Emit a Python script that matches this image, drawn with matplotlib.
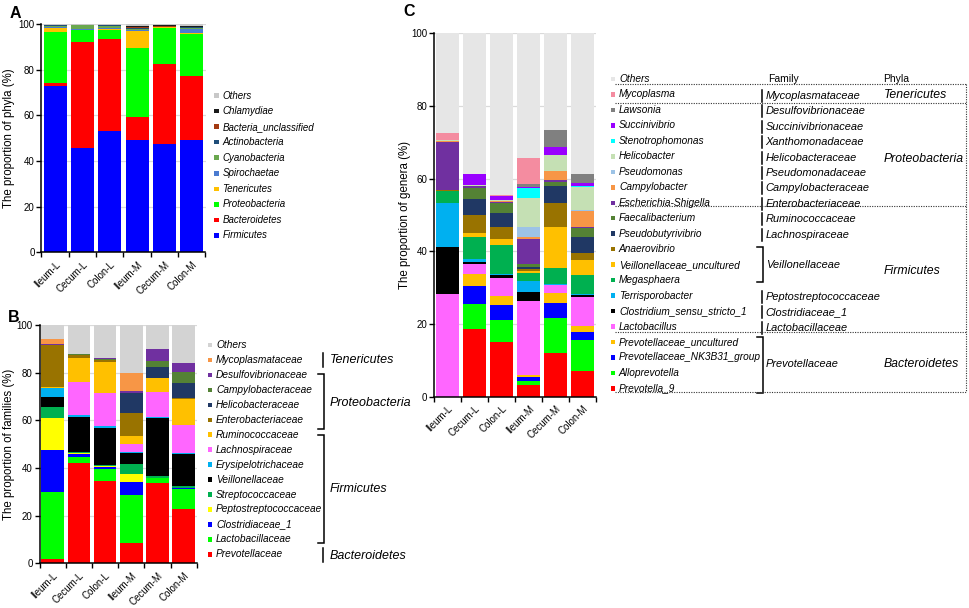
import numpy as np
import matplotlib
matplotlib.use('Agg')
import matplotlib.pyplot as plt
from matplotlib.patches import Rectangle

plt.rcParams['font.family'] = ['Liberation Sans', 'DejaVu Sans']

W, H = 970, 608

groups = ['Ileum-L', 'Cecum-L', 'Colon-L', 'Ileum-M', 'Cecum-M', 'Colon-M']

# ---- panel A: phyla (bottom -> top) ----
firmicutes = [72.8, 45.5, 53.3, 49.2, 47.3, 49.2]
bacteroidetes = [1.5, 46.5, 40.1, 10.1, 35.3, 28.0]
proteobacteria = [22.1, 5.2, 4.1, 30.2, 15.8, 18.3]
tenericutes = [2.0, 0.3, 0.5, 7.4, 0.1, 0.6]
spirochaetae = [0.3, 0.3, 0.4, 0.5, 0.1, 1.8]
cyanobacteria = [0.3, 1.7, 0.8, 0.3, 0.2, 0.2]
actinobacteria = [0.4, 0.1, 0.2, 0.5, 0.1, 0.6]
bacteria_unclassified = [0.1, 0.05, 0.05, 0.7, 0.1, 0.1]
chlamydiae = [0.1, 0.05, 0.05, 0.2, 0.5, 0.4]
others_phyla = [0.4, 0.3, 0.5, 0.9, 0.5, 0.8]

# ---- panel B: families ----
prevotellaceae = [1.8, 42.2, 34.5, 8.4, 33.6, 22.9]
lactobacillaceae = [28.0, 2.6, 5.1, 20.3, 2.1, 8.3]
clostridiaceae_1 = [17.8, 1.1, 0.8, 5.6, 0.2, 0.2]
peptostreptococcaceae = [13.2, 0.5, 0.6, 3.2, 0.1, 0.4]
streptococcaceae = [4.7, 0.3, 0.2, 4.2, 0.6, 0.8]
veillonellaceae = [4.4, 14.8, 15.7, 4.5, 24.2, 13.1]
erysipelotrichaceae = [3.5, 0.6, 0.7, 0.7, 0.7, 0.7]
lachnospiraceae = [0.3, 14.0, 13.7, 3.2, 10.5, 11.6]
ruminococcaceae = [0.2, 10.2, 13.0, 3.5, 5.6, 11.0]
enterobacteriaceae = [17.7, 1.0, 0.9, 9.3, 0.3, 0.3]
helicobacteraceae = [0.1, 0.1, 0.1, 8.4, 4.3, 6.5]
campylobacteraceae = [0.1, 0.4, 0.4, 0.3, 2.8, 4.6]
desulfovibrionaceae = [0.1, 0.1, 0.3, 0.7, 4.8, 3.5]
mycoplasmataceae = [2.1, 0.1, 0.0, 7.4, 0.1, 0.1]
others_families = [6.0, 12.0, 14.0, 20.3, 10.1, 16.0]

# ---- panel C: genera ----
prevotella_9 = [0.0, 18.5, 15.1, 3.2, 11.9, 7.2]
alloprevotella = [0.0, 7.0, 6.0, 1.1, 9.8, 8.4]
nk3b31_group = [0.0, 5.0, 4.1, 1.0, 4.2, 2.3]
prevotellaceae_unc = [0.0, 3.3, 2.5, 0.7, 2.5, 1.6]
lactobacillus = [28.2, 2.7, 5.1, 20.3, 2.3, 8.0]
clostridium_ss1 = [13.0, 0.7, 0.6, 2.5, 0.1, 0.6]
terrisporobacter = [12.0, 0.6, 0.5, 3.0, 0.2, 0.2]
megasphaera = [3.4, 6.1, 7.8, 2.2, 4.5, 5.1]
veillonellaceae_unc = [0.1, 1.2, 1.7, 0.6, 11.3, 4.2]
anaerovibrio = [0.1, 4.9, 3.2, 0.6, 6.6, 2.0]
pseudobutyrivibrio = [0.0, 4.3, 4.0, 0.6, 4.7, 4.4]
faecalibacterium = [0.0, 3.0, 2.6, 0.6, 1.1, 2.3]
escherichia_shigella = [13.4, 0.6, 0.4, 7.0, 0.4, 0.4]
campylobacter = [0.2, 0.1, 0.2, 0.5, 2.6, 4.5]
pseudomonas = [0.0, 0.1, 0.1, 2.9, 0.0, 0.1]
helicobacter = [0.2, 0.1, 0.2, 8.0, 4.2, 6.5]
stenotrophomonas = [0.0, 0.0, 0.0, 2.5, 0.0, 0.2]
succinivibrio = [0.0, 3.1, 1.1, 0.3, 2.4, 0.7]
lawsonia = [0.0, 0.1, 0.1, 0.8, 4.6, 2.5]
mycoplasma = [2.1, 0.0, 0.1, 7.2, 0.0, 0.0]
others_genera = [27.3, 38.6, 44.6, 34.4, 26.6, 38.8]

phyla = [
    ('Firmicutes', firmicutes, '#0000FF'),
    ('Bacteroidetes', bacteroidetes, '#FF0000'),
    ('Proteobacteria', proteobacteria, '#00FF00'),
    ('Tenericutes', tenericutes, '#FFC000'),
    ('Spirochaetae', spirochaetae, '#4A7BD0'),
    ('Cyanobacteria', cyanobacteria, '#6AA84F'),
    ('Actinobacteria', actinobacteria, '#1F4E79'),
    ('Bacteria_unclassified', bacteria_unclassified, '#A33A12'),
    ('Chlamydiae', chlamydiae, '#1A1A1A'),
    ('Others', others_phyla, '#C8C8C8'),
]

families = [
    ('Prevotellaceae', prevotellaceae, '#FF0000'),
    ('Lactobacillaceae', lactobacillaceae, '#00FF00'),
    ('Clostridiaceae_1', clostridiaceae_1, '#0000FF'),
    ('Peptostreptococcaceae', peptostreptococcaceae, '#FFFF00'),
    ('Streptococcaceae', streptococcaceae, '#00B050'),
    ('Veillonellaceae', veillonellaceae, '#000000'),
    ('Erysipelotrichaceae', erysipelotrichaceae, '#00B0F0'),
    ('Lachnospiraceae', lachnospiraceae, '#FF66FF'),
    ('Ruminococcaceae', ruminococcaceae, '#FFC000'),
    ('Enterobacteriaceae', enterobacteriaceae, '#997300'),
    ('Helicobacteraceae', helicobacteraceae, '#203864'),
    ('Campylobacteraceae', campylobacteraceae, '#548235'),
    ('Desulfovibrionaceae', desulfovibrionaceae, '#7030A0'),
    ('Mycoplasmataceae', mycoplasmataceae, '#F79646'),
    ('Others', others_families, '#D3D3D3'),
]

genera = [
    ('Prevotella_9', prevotella_9, '#FF0000'),
    ('Alloprevotella', alloprevotella, '#00FF00'),
    ('Prevotellaceae_NK3B31_group', nk3b31_group, '#0000FF'),
    ('Prevotellaceae_uncultured', prevotellaceae_unc, '#FFC000'),
    ('Lactobacillus', lactobacillus, '#FF66FF'),
    ('Clostridium_sensu_stricto_1', clostridium_ss1, '#000000'),
    ('Terrisporobacter', terrisporobacter, '#00B0F0'),
    ('Megasphaera', megasphaera, '#00B050'),
    ('Veillonellaceae_uncultured', veillonellaceae_unc, '#FFC000'),
    ('Anaerovibrio', anaerovibrio, '#997300'),
    ('Pseudobutyrivibrio', pseudobutyrivibrio, '#203864'),
    ('Faecalibacterium', faecalibacterium, '#548235'),
    ('Escherichia-Shigella', escherichia_shigella, '#7030A0'),
    ('Campylobacter', campylobacter, '#F79646'),
    ('Pseudomonas', pseudomonas, '#9DC3E6'),
    ('Helicobacter', helicobacter, '#C5E0B4'),
    ('Stenotrophomonas', stenotrophomonas, '#00FFFF'),
    ('Succinivibrio', succinivibrio, '#9900FF'),
    ('Lawsonia', lawsonia, '#808080'),
    ('Mycoplasma', mycoplasma, '#F48CA0'),
    ('Others', others_genera, '#E6E6E6'),
]

fig = plt.figure(figsize=(W / 100, H / 100), dpi=100)


def px_axes(l, t, r, b):
    return fig.add_axes([l / W, 1 - b / H, (r - l) / W, (b - t) / H])


def stacked(ax, layers, width, ylabel, label_x):
    x = np.arange(len(groups))
    bottom = np.zeros(len(groups))
    for name, vals, col in layers:
        vals = np.array(vals, dtype=float)
        ax.bar(x, vals, width, bottom=bottom, color=col, linewidth=0, zorder=2)
        bottom += vals
    ax.set_xlim(-0.5, len(groups) - 0.5)
    ax.set_ylim(0, 100)
    ax.set_yticks(np.arange(0, 101, 20))
    ax.yaxis.grid(True, color='#DADADA', linewidth=0.9, zorder=0)
    ax.set_axisbelow(True)
    ax.set_xticks(x)
    ax.set_xticklabels(groups, rotation=45, ha='right', va='top',
                       rotation_mode='anchor', fontsize=7)
    ax.set_xticks(np.arange(-0.5, len(groups), 1), minor=True)
    ax.tick_params(axis='x', which='major', length=0, pad=5)
    ax.tick_params(axis='x', which='minor', length=3.5, width=1)
    ax.tick_params(axis='y', length=3.5, width=1, labelsize=7, pad=1.5)
    for s in ['top', 'right']:
        ax.spines[s].set_visible(False)
    for s in ['left', 'bottom']:
        ax.spines[s].set_linewidth(1.1)
    ax.set_ylabel(ylabel, fontsize=8.3)
    ax.yaxis.set_label_coords(label_x, 0.5)


axA = px_axes(41.5, 24, 205.5, 252.3)
stacked(axA, phyla, 0.85, 'The proportion of phyla (%)', (15 - 41.5) / 164)
axB = px_axes(39.6, 325, 196.8, 563.3)
stacked(axB, families, 0.86, 'The proportion of families (%)', (15 - 39.6) / 157.2)
axC = px_axes(434.2, 33.3, 596.2, 396.7)
stacked(axC, genera, 0.83, 'The proportion of genera (%)', (411 - 434.2) / 162)

# overlay in pixel coordinates for legends and annotations
ov = fig.add_axes([0, 0, 1, 1], zorder=10)
ov.set_xlim(0, W)
ov.set_ylim(H, 0)
ov.axis('off')
ov.patch.set_alpha(0)

for lab, x, y in [('A', 10, 13), ('B', 8, 317), ('C', 403, 12)]:
    ov.text(x, y, lab, fontsize=11.5, fontweight='bold', va='center', ha='left')


def legend(layers, x_sq, x_txt, y0, step, size, fs):
    for i, (name, vals, col) in enumerate(layers[::-1]):
        y = y0 + i * step
        ov.add_patch(Rectangle((x_sq - size / 2, y - size / 2), size, size,
                               color=col, linewidth=0))
        ov.text(x_txt, y, name, fontsize=fs, style='italic', va='center', ha='left')


legend(phyla, 216.5, 222.5, 95.7, 15.51, 4.5, 7)
legend(families, 210, 216, 345, 14.95, 4.5, 7.3)
legend(genera, 613, 619, 79, 15.47, 4.5, 7.3)


def bracket(x, y1, y2, tick=6, lw=1.1):
    ov.plot([x - tick, x, x, x - tick], [y1, y1, y2, y2], color='black',
            lw=lw, solid_joinstyle='miter')


def vbar(x, y1, y2, lw=1.1):
    ov.plot([x, x], [y1, y2], color='black', lw=lw)


# panel B phylum groups
vbar(322.7, 353.3, 367.3)
ov.text(330, 360, 'Tenericutes', fontsize=9, style='italic', va='center')
bracket(324, 374.3, 429.3)
ov.text(330, 402.7, 'Proteobacteria', fontsize=9, style='italic', va='center')
bracket(324, 435, 543.3)
ov.text(330, 489.3, 'Firmicutes', fontsize=9, style='italic', va='center')
vbar(322.7, 548.3, 561.7)
ov.text(330, 556, 'Bacteroidetes', fontsize=9, style='italic', va='center')

# panel C family / phyla columns
rowC = lambda i: 79 + 15.47 * i
ov.text(768, rowC(0), 'Family', fontsize=7.5, va='center')
ov.text(883, rowC(0), 'Phyla', fontsize=7.5, va='center')

single_fam = {1: 'Mycoplasmataceae', 2: 'Desulfovibrionaceae', 3: 'Succinivibrionaceae',
              4: 'Xanthomonadaceae', 5: 'Helicobacteraceae', 6: 'Pseudomonadaceae',
              7: 'Campylobacteraceae', 8: 'Enterobacteriaceae', 9: 'Ruminococcaceae',
              10: 'Lachnospiraceae', 14: 'Peptostreptococcaceae', 15: 'Clostridiaceae_1',
              16: 'Lactobacillaceae'}
for i, fam in single_fam.items():
    y = rowC(i) + 1.2
    vbar(762.3, y - 6, y + 6)
    ov.text(765.7, y, fam, fontsize=7.9, style='italic', va='center')

bracket(763.3, 246.7, 281.7)
ov.text(765.7, 264.7, 'Veillonellaceae', fontsize=7.9, style='italic', va='center')
bracket(763.3, 336.7, 392.7)
ov.text(765.7, 364.3, 'Prevotellaceae', fontsize=7.9, style='italic', va='center')

ov.text(884, 94.5, 'Tenericutes', fontsize=8.8, style='italic', va='center')
ov.text(884, 159, 'Proteobacteria', fontsize=8.8, style='italic', va='center')
ov.text(884, 270.7, 'Firmicutes', fontsize=8.8, style='italic', va='center')
ov.text(884, 364.3, 'Bacteroidetes', fontsize=8.8, style='italic', va='center')

dot = dict(color='#333333', lw=0.8, linestyle=(0, (1, 1.2)))
for y in [84, 103, 206, 332, 392]:
    ov.plot([615, 966], [y, y], **dot)
ov.plot([966, 966], [84, 392], **dot)

fig.savefig('out.png', dpi=100)
